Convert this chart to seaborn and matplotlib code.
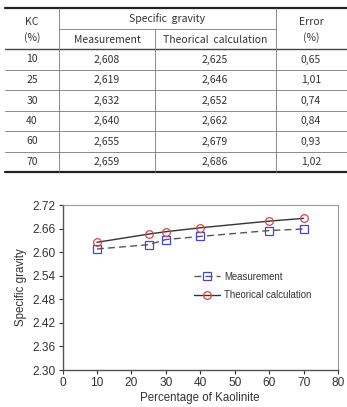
import numpy as np
import pandas as pd
import matplotlib
matplotlib.use("Agg")
import matplotlib.pyplot as plt
import seaborn as sns

# ---- data ----
kc = [10, 25, 30, 40, 60, 70]
measurement = [2.608, 2.619, 2.632, 2.640, 2.655, 2.659]
theorical = [2.625, 2.646, 2.652, 2.662, 2.679, 2.686]
error = [0.65, 1.01, 0.74, 0.84, 0.93, 1.02]
yticks = [2.30, 2.36, 2.42, 2.48, 2.54, 2.60, 2.66, 2.72]
xticks = [0, 10, 20, 30, 40, 50, 60, 70, 80]

sns.set_style("white")
plt.rcParams['font.family'] = ['Liberation Sans', 'DejaVu Sans']

W, H = 347, 407
fig = plt.figure(figsize=(W / 100, H / 100), dpi=100)

# ---- table (pixel coordinates) ----
ax_t = fig.add_axes([0, 0, 1, 1])
ax_t.set_xlim(0, W)
ax_t.set_ylim(H, 0)
ax_t.axis("off")

tfont = dict(family=['Noto Sans CJK KR', 'DejaVu Sans'], fontsize=7.5, color="#333333")
row_y = [49, 70, 90, 111, 131, 152, 172]
top_y = 8
grid_c = "#777777"

ax_t.plot([5, 347], [top_y, top_y], color="#222222", lw=1.6)
ax_t.plot([5, 347], [172, 172], color="#222222", lw=1.6)
ax_t.plot([5, 347], [49, 49], color="#444444", lw=1.0)
for y in row_y[1:-1]:
    ax_t.plot([5, 347], [y, y], color=grid_c, lw=0.6)
ax_t.plot([59, 276], [29, 29], color=grid_c, lw=0.6)
ax_t.plot([59, 59], [top_y, 172], color=grid_c, lw=0.6)
ax_t.plot([276, 276], [top_y, 172], color=grid_c, lw=0.6)
ax_t.plot([155, 155], [29, 172], color=grid_c, lw=0.6)

ax_t.text(32, 22, "KC", ha="center", va="center", **tfont)
ax_t.text(32, 38, "(%)", ha="center", va="center", **tfont)
ax_t.text(167, 19, "Specific  gravity", ha="center", va="center", **tfont)
ax_t.text(107, 40, "Measurement", ha="center", va="center", **tfont)
ax_t.text(215, 40, "Theorical  calculation", ha="center", va="center", **tfont)
ax_t.text(311, 22, "Error", ha="center", va="center", **tfont)
ax_t.text(311, 38, "(%)", ha="center", va="center", **tfont)

for i in range(len(kc)):
    yc = (row_y[i] + row_y[i + 1]) / 2
    ax_t.text(32, yc, str(kc[i]), ha="center", va="center", **tfont)
    ax_t.text(107, yc, f"{measurement[i]:.3f}".replace(".", ","), ha="center", va="center", **tfont)
    ax_t.text(215, yc, f"{theorical[i]:.3f}".replace(".", ","), ha="center", va="center", **tfont)
    ax_t.text(311, yc, f"{error[i]:.2f}".replace(".", ","), ha="center", va="center", **tfont)

# ---- chart ----
l, r, t, b = 62.5, 338, 205, 370
ax = fig.add_axes([l / W, 1 - b / H, (r - l) / W, (b - t) / H])

df = pd.DataFrame({"kc": kc, "Measurement": measurement, "Theorical calculation": theorical})
sns.lineplot(data=df, x="kc", y="Measurement", ax=ax, color="#555555", lw=1.0,
             linestyle=(0, (5, 3)), marker="s", markersize=5.5, markerfacecolor="none",
             markeredgecolor="#4444dd", markeredgewidth=0.9, label="Measurement")
sns.lineplot(data=df, x="kc", y="Theorical calculation", ax=ax, color="#333333", lw=1.0,
             marker="o", markersize=5.5, markerfacecolor="none",
             markeredgecolor="#dd4444", markeredgewidth=0.9, label="Theorical calculation")

ax.set_xlim(0, 80)
ax.set_ylim(2.30, 2.72)
ax.set_xticks(xticks)
ax.set_yticks(yticks)
ax.set_yticklabels([f"{v:.2f}" for v in yticks])
ax.tick_params(axis="both", labelsize=8.6, colors="#333333", length=3, width=0.8,
               direction="out", left=True, bottom=True, pad=2)
ax.set_xlabel("Percentage of Kaolinite", fontsize=8.3, color="#333333", labelpad=2)
ax.set_ylabel("Specific gravity", fontsize=8.3, color="#333333", labelpad=4)
for s in ["left", "bottom"]:
    ax.spines[s].set_color("#555555")
    ax.spines[s].set_linewidth(1.0)
for s in ["top", "right"]:
    ax.spines[s].set_color("#999999")
    ax.spines[s].set_linewidth(0.8)

leg = ax.legend(loc="upper left", bbox_to_anchor=(0.465, 0.62), frameon=False,
                fontsize=6.9, handlelength=2.7, handletextpad=0.4,
                labelspacing=0.9, borderaxespad=0)
for txt in leg.get_texts():
    txt.set_color("#333333")

fig.savefig("out.png", dpi=100)
